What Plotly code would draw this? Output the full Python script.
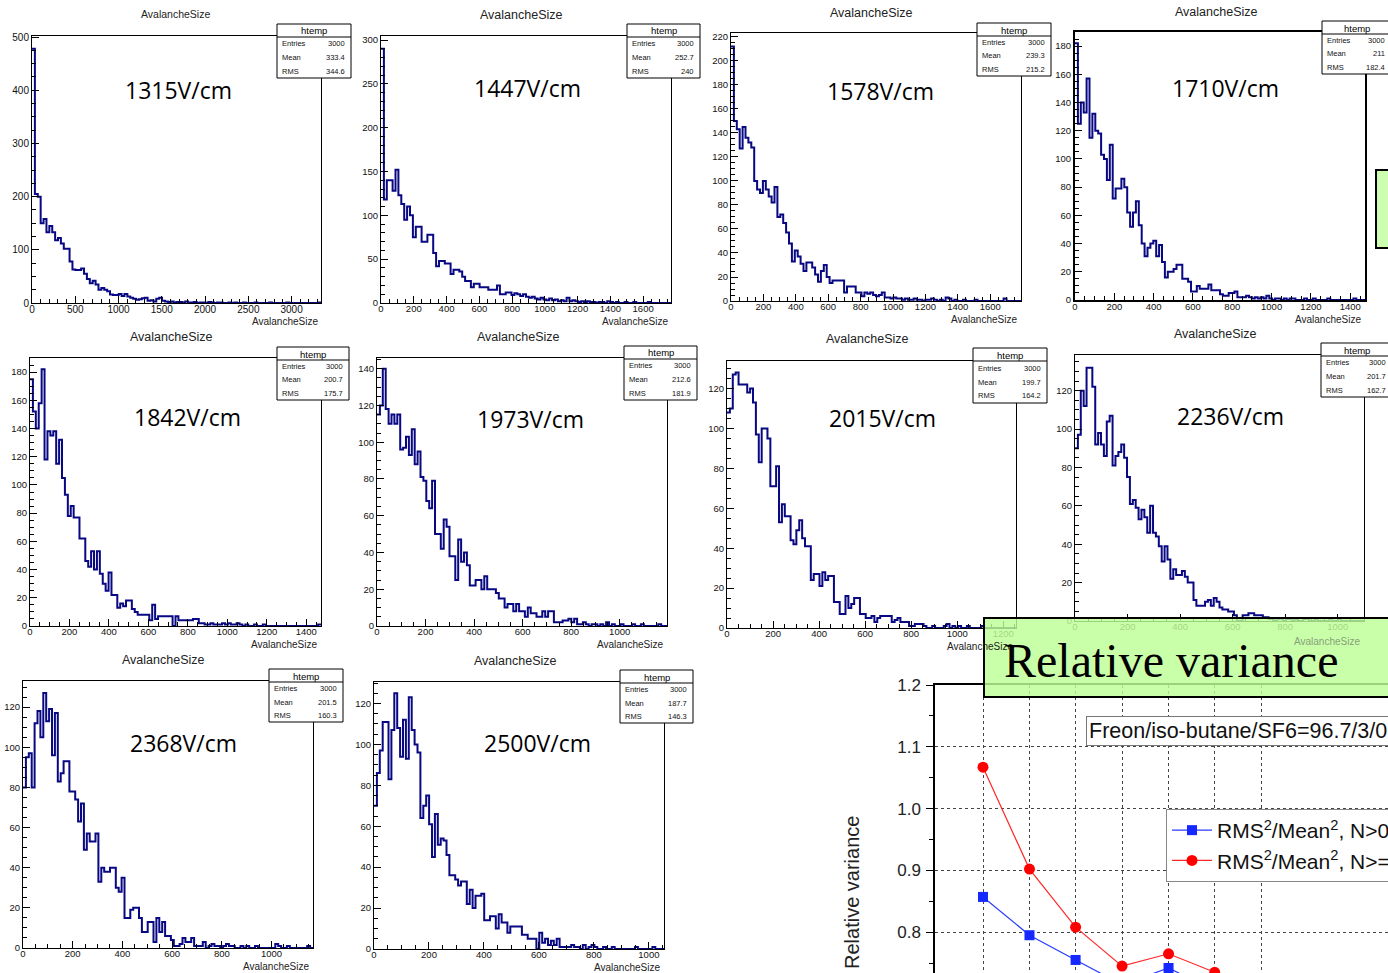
import plotly.graph_objects as go

W, H = 1388, 973
SANS = "Liberation Sans, Arial, sans-serif"
SERIF = "Liberation Serif, Times New Roman, serif"
LABELF = "Open Sans, Noto Sans, sans-serif"

# ---------------- data ----------------
field_labels = ["1315V/cm", "1447V/cm", "1578V/cm", "1710V/cm", "1842V/cm",
                "1973V/cm", "2015V/cm", "2236V/cm", "2368V/cm", "2500V/cm"]
bin_width = [33.4, 17.7, 17.9, 14.75, 14.75, 11.95, 12.55, 11.0, 11.67, 10.55]
entries = ["3000", "3000", "3000", "3000", "3000", "3000", "3000", "3000", "3000", "3000"]
means = ["333.4", "252.7", "239.3", "211", "200.7", "212.6", "199.7", "201.7", "201.5", "187.7"]
rmss = ["344.6", "240", "215.2", "182.4", "175.7", "181.9", "164.2", "162.7", "160.3", "146.3"]

counts_1315 = [478, 205, 200, 150, 158, 133, 145, 133, 118, 122,
               112, 102, 102, 78, 63, 62, 62, 65, 55, 45,
               37, 42, 35, 25, 28, 25, 22, 16, 15, 15,
               17, 13, 17, 12, 10, 8, 6, 7, 9, 10,
               4, 5, 3, 8, 10, 4, 3, 2, 3, 1,
               2, 2, 1, 3, 1, 1, 2, 0, 1, 1,
               0, 2, 1, 0, 1, 1, 0, 0, 1, 0,
               1, 0, 0, 1, 0, 0, 0, 1, 0, 0,
               0, 0, 1, 0, 0, 0, 0, 0, 1, 0,
               0, 0, 0, 0, 0, 0, 0, 0, 0, 1]
counts_1447 = [290, 118, 140, 140, 128, 152, 123, 113, 95, 110,
               100, 75, 87, 87, 70, 70, 78, 78, 57, 42,
               48, 48, 45, 45, 33, 38, 38, 36, 30, 25,
               25, 18, 22, 22, 18, 18, 18, 15, 15, 15,
               20, 10, 10, 12, 12, 9, 11, 10, 8, 10,
               7, 6, 7, 5, 4, 6, 4, 3, 5, 3,
               4, 2, 3, 2, 6, 2, 3, 2, 1, 2,
               1, 2, 1, 1, 0, 1, 1, 0, 2, 1,
               0, 1, 0, 0, 1, 0, 0, 1, 0, 0,
               0, 0, 1, 0, 0, 0, 0, 0, 0, 0]
counts_1578 = [212, 150, 143, 127, 145, 136, 132, 128, 100, 93,
               90, 100, 93, 87, 82, 95, 70, 72, 65, 57,
               48, 33, 42, 37, 31, 25, 32, 32, 28, 22,
               16, 25, 30, 20, 15, 17, 17, 17, 17, 7,
               12, 12, 12, 7, 7, 4, 7, 6, 7, 5,
               4, 5, 7, 3, 3, 2, 3, 2, 2, 1,
               2, 1, 1, 2, 1, 1, 0, 1, 1, 2,
               1, 0, 1, 0, 3, 2, 0, 1, 0, 0,
               1, 0, 0, 0, 1, 0, 0, 0, 0, 0,
               0, 0, 0, 0, 2, 0, 0, 0, 0, 0]
counts_1710 = [182, 125, 140, 133, 157, 115, 132, 120, 118, 103,
               100, 85, 110, 72, 79, 79, 86, 80, 62, 52,
               62, 70, 53, 40, 31, 37, 40, 42, 31, 39,
               27, 16, 20, 20, 22, 25, 25, 15, 15, 13,
               6, 6, 10, 8, 8, 8, 11, 7, 7, 7,
               4, 3, 3, 5, 5, 6, 2, 2, 2, 3,
               2, 1, 2, 1, 2, 1, 3, 1, 0, 1,
               1, 0, 1, 0, 1, 1, 0, 0, 0, 1,
               0, 0, 1, 0, 0, 0, 0, 1, 0, 0,
               0, 0, 0, 0, 0, 0, 1, 0, 0, 0]
counts_1842 = [175, 152, 140, 158, 182, 118, 138, 135, 138, 115,
               132, 105, 93, 78, 85, 77, 77, 62, 62, 46,
               42, 53, 40, 53, 37, 30, 25, 38, 22, 22,
               13, 16, 14, 18, 18, 12, 10, 8, 8, 8,
               8, 4, 15, 5, 7, 7, 7, 7, 7, 0,
               7, 4, 4, 4, 4, 4, 5, 5, 2, 2,
               1, 1, 2, 1, 1, 1, 2, 1, 2, 1,
               1, 2, 1, 0, 1, 0, 0, 1, 0, 0,
               1, 0, 0, 0, 0, 0, 0, 0, 0, 0,
               0, 0, 0, 0, 0, 0, 0, 0, 0, 1]
counts_1973 = [115, 120, 140, 118, 110, 115, 110, 115, 96, 97,
               103, 93, 107, 88, 95, 81, 79, 68, 64, 79,
               50, 50, 42, 58, 54, 38, 38, 25, 47, 35,
               40, 33, 22, 22, 25, 25, 20, 27, 20, 20,
               20, 18, 15, 15, 10, 12, 12, 8, 12, 8,
               8, 5, 10, 7, 7, 5, 5, 8, 5, 8,
               8, 2, 2, 2, 3, 3, 4, 2, 4, 1,
               1, 2, 1, 0, 1, 1, 0, 1, 0, 2,
               0, 1, 0, 0, 1, 0, 0, 0, 1, 0,
               0, 1, 0, 0, 0, 0, 0, 1, 0, 0]
counts_2015 = [108, 110, 127, 128, 122, 122, 122, 118, 120, 113,
               97, 83, 100, 100, 95, 71, 71, 81, 53, 62,
               56, 56, 44, 42, 49, 54, 45, 41, 41, 24,
               27, 27, 21, 28, 24, 26, 26, 13, 13, 7,
               7, 16, 10, 12, 15, 15, 7, 7, 5, 5,
               6, 3, 5, 6, 6, 6, 6, 3, 4, 5,
               3, 3, 3, 1, 1, 2, 2, 2, 1, 0,
               0, 1, 0, 0, 0, 1, 2, 0, 1, 0,
               1, 0, 0, 1, 0, 0, 0, 0, 1, 0,
               0, 0, 0, 0, 0, 0, 0, 0, 0, 0]
counts_2236 = [90, 97, 120, 112, 132, 132, 122, 92, 98, 92,
               86, 104, 107, 81, 86, 88, 92, 85, 75, 61,
               63, 59, 53, 58, 54, 46, 60, 46, 44, 39,
               31, 39, 32, 22, 27, 24, 24, 26, 23, 20,
               20, 11, 8, 8, 8, 10, 11, 8, 12, 10,
               7, 6, 6, 5, 5, 3, 0, 0, 3, 3,
               4, 4, 3, 3, 3, 2, 2, 1, 1, 0,
               1, 1, 0, 1, 1, 0, 1, 0, 0, 1,
               1, 0, 0, 1, 0, 0, 0, 0, 1, 0,
               0, 1, 0, 0, 0, 0, 0, 0, 0, 0]
counts_2368 = [80, 95, 97, 80, 112, 118, 105, 127, 113, 119,
               96, 117, 83, 87, 93, 93, 78, 78, 74, 63,
               72, 49, 57, 53, 53, 57, 33, 40, 38, 38,
               40, 40, 30, 28, 35, 15, 15, 19, 20, 20,
               15, 8, 8, 13, 13, 3, 15, 8, 13, 6,
               6, 4, 1, 1, 2, 5, 3, 3, 5, 1,
               1, 1, 3, 0, 1, 2, 1, 1, 0, 1,
               2, 1, 1, 0, 0, 1, 0, 1, 0, 0,
               1, 0, 0, 0, 0, 0, 0, 2, 1, 0,
               0, 1, 0, 0, 0, 0, 0, 0, 1, 0]
counts_2500 = [70, 86, 97, 111, 111, 83, 107, 125, 108, 94,
               112, 93, 123, 107, 100, 96, 64, 70, 75, 61,
               45, 66, 51, 54, 53, 46, 36, 36, 34, 31,
               33, 33, 22, 29, 20, 26, 26, 27, 14, 14,
               16, 16, 10, 17, 13, 13, 8, 11, 11, 11,
               11, 7, 7, 5, 5, 5, 0, 8, 3, 5,
               2, 4, 2, 5, 1, 1, 1, 1, 2, 1,
               1, 0, 2, 0, 1, 2, 1, 0, 0, 1,
               0, 0, 1, 0, 0, 0, 0, 0, 0, 0,
               1, 0, 0, 0, 0, 0, 1, 0, 0, 0]

all_counts = [counts_1315, counts_1447, counts_1578, counts_1710, counts_1842,
              counts_1973, counts_2015, counts_2236, counts_2368, counts_2500]

# relative variance panel
field_strength = [1315, 1447, 1578, 1710, 1842, 1973, 2105]
relvar_n0 = [0.857, 0.795, 0.755, 0.715, 0.742, 0.705, 0.69]
relvar_n1 = [1.067, 0.902, 0.808, 0.745, 0.765, 0.735, 0.71]
relvar_ticks = [0.8, 0.9, 1.0, 1.1, 1.2]
legend_names = ["RMS<sup>2</sup>/Mean<sup>2</sup>, N>0", "RMS<sup>2</sup>/Mean<sup>2</sup>, N>=1"]

# ---------------- layout geometry (pixels) ----------------
def fx(x):
    return x / W


def fy(y):
    return 1 - y / H


panels = [
    dict(f=(32, 321, 36, 303), ymax=502, dx=500, dy=100, dxm=100, dym=25, t=(175, 14, 10.5), lab=(178, 90), xt=(320, 321), sb=(277, 351, 24, 78), fw=1, ts=10),
    dict(f=(381, 671, 36, 303), ymax=304.6, dx=200, dy=50, dxm=50, dym=10, t=(521, 15, 12.5), lab=(527, 88), xt=(670, 321), sb=(627, 700, 24, 78), fw=1, ts=9.5),
    dict(f=(731, 1021, 33, 301), ymax=223.3, dx=200, dy=20, dxm=50, dym=5, t=(871, 13, 12.5), lab=(880, 91), xt=(1019, 319), sb=(977, 1051, 23, 76), fw=1, ts=9.5),
    dict(f=(1075, 1365, 32, 300), ymax=190, dx=200, dy=20, dxm=50, dym=5, t=(1216, 12, 12.5), lab=(1225, 88), xt=(1363, 319), sb=(1322, 1391, 21, 74), fw=2, ts=9.5),
    dict(f=(30, 321, 358, 626), ymax=190, dx=200, dy=20, dxm=50, dym=5, t=(171, 337, 12.5), lab=(188, 417), xt=(319, 644), sb=(277, 349, 347, 400), fw=1, ts=9.5),
    dict(f=(377, 667, 358, 626), ymax=145.8, dx=200, dy=20, dxm=50, dym=5, t=(518, 337, 12.5), lab=(530, 419), xt=(665, 644), sb=(624, 697, 346, 400), fw=1, ts=9.5),
    dict(f=(727, 1016, 361, 628), ymax=133.8, dx=200, dy=20, dxm=50, dym=5, t=(867, 339, 12.5), lab=(882, 418), xt=(1015, 646), sb=(973, 1047, 348, 403), fw=1, ts=9.5),
    dict(f=(1075, 1364, 355, 621), ymax=138.6, dx=200, dy=20, dxm=50, dym=5, t=(1215, 334, 12.5), lab=(1230, 416), xt=(1362, 641), sb=(1321, 1392, 343, 397), fw=1, ts=9.5),
    dict(f=(23, 313, 681, 948), ymax=133, dx=200, dy=20, dxm=50, dym=5, t=(163, 660, 12.5), lab=(183, 743), xt=(311, 966), sb=(269, 343, 669, 722), fw=1, ts=9.5),
    dict(f=(374, 664, 682, 949), ymax=130.5, dx=200, dy=20, dxm=50, dym=5, t=(515, 661, 12.5), lab=(537, 743), xt=(662, 967), sb=(620, 693, 670, 723), fw=1, ts=9.5),
]

NAVY = "rgb(8,8,130)"
fig = go.Figure()
annotations = []
shapes = []
layout_axes = {}


def ann(x, y, text, size, family=SANS, xanchor="center", yanchor="middle", color="black", **kw):
    d = dict(x=fx(x), y=fy(y), xref="paper", yref="paper", text=text, showarrow=False,
             font=dict(family=family, size=size, color=color), xanchor=xanchor, yanchor=yanchor)
    d.update(kw)
    return d


for i, (p, counts, bw) in enumerate(zip(panels, all_counts, bin_width)):
    n = i + 1
    xn = "x" if n == 1 else f"x{n}"
    yn = "y" if n == 1 else f"y{n}"
    edges = [k * bw for k in range(len(counts) + 1)]
    fig.add_trace(go.Scatter(x=edges, y=counts + [counts[-1]], mode="lines", line_shape="hv",
                             line=dict(color=NAVY, width=2), xaxis=xn, yaxis=yn, showlegend=False,
                             hoverinfo="skip"))
    l, r, t, b = p["f"]
    common = dict(showline=True, mirror=True, linecolor="black", linewidth=p["fw"], showgrid=False,
                  zeroline=False, ticks="inside", ticklen=7, tickcolor="black", tickwidth=1,
                  tickfont=dict(family=SANS, size=p["ts"], color="#111"), tick0=0)
    layout_axes["xaxis" if n == 1 else f"xaxis{n}"] = dict(
        domain=[fx(l), fx(r)], anchor=yn, range=[0, len(counts) * bw], dtick=p["dx"],
        ticklabelstandoff=-3,
        minor=dict(dtick=p["dxm"], ticks="inside", ticklen=4, tickcolor="black", tick0=0), **common)
    layout_axes["yaxis" if n == 1 else f"yaxis{n}"] = dict(
        domain=[fy(b), fy(t)], anchor=xn, range=[0, p["ymax"]], dtick=p["dy"],
        minor=dict(dtick=p["dym"], ticks="inside", ticklen=4, tickcolor="black", tick0=0), **common)
    # titles
    tx, ty, ts = p["t"]
    annotations.append(ann(tx, ty, "AvalancheSize", ts, color="#222"))
    xr, xy = p["xt"]
    annotations.append(ann(xr, xy, "AvalancheSize", 10, xanchor="right",
                           color="#86a07c" if n == 8 else "#222"))
    lx, ly = p["lab"]
    annotations.append(ann(lx, ly, field_labels[i], 23, family=LABELF, color="black"))
    # stats box
    x0, x1, y0, y1 = p["sb"]
    shapes.append(dict(type="rect", xref="paper", yref="paper", x0=fx(x0), x1=fx(x1), y0=fy(y1), y1=fy(y0),
                       fillcolor="white", line=dict(color="black", width=1), layer="above"))
    hh = 13
    shapes.append(dict(type="line", xref="paper", yref="paper", x0=fx(x0), x1=fx(x1), y0=fy(y0 + hh), y1=fy(y0 + hh),
                       line=dict(color="black", width=1), layer="above"))
    annotations.append(ann((x0 + x1) / 2, y0 + hh / 2 + 0.5, "htemp", 9.5))
    rowh = (y1 - y0 - hh) / 3
    for j, (name, val) in enumerate([("Entries", entries[i]), ("Mean", means[i]), ("RMS", rmss[i])]):
        yy = y0 + hh + (j + 0.5) * rowh
        annotations.append(ann(x0 + 3, yy, name, 7.5, xanchor="left", color="#111"))
        annotations.append(ann(x1 - 4, yy, val, 7.5, xanchor="right", color="#111"))

# ---------------- relative variance panel ----------------
px0 = 983.0
step_px = 46.3
step_v = 131.5
xmin_v = field_strength[0] - (px0 - 935) * step_v / step_px
xmax_v = field_strength[0] + (W - px0) * step_v / step_px
ybot_v = 0.8 - (H - 932) / 620.0

fig.add_trace(go.Scatter(x=field_strength, y=relvar_n0, mode="lines+markers", name=legend_names[0],
                         line=dict(color="rgb(40,60,255)", width=1.2),
                         marker=dict(symbol="square", size=10, color="rgb(20,40,255)"),
                         xaxis="x11", yaxis="y11"))
fig.add_trace(go.Scatter(x=field_strength, y=relvar_n1, mode="lines+markers", name=legend_names[1],
                         line=dict(color="rgb(255,40,40)", width=1.2),
                         marker=dict(symbol="circle", size=11, color="rgb(255,0,0)"),
                         xaxis="x11", yaxis="y11"))

layout_axes["xaxis11"] = dict(domain=[fx(935), 1.0], anchor="y11", range=[xmin_v, xmax_v], side="top",
                              showline=True, linecolor="black", linewidth=1.5, ticks="",
                              showticklabels=False, tickmode="array", tickvals=field_strength,
                              showgrid=True, gridcolor="#444", griddash="dot", gridwidth=1.2, zeroline=False)
layout_axes["yaxis11"] = dict(domain=[0, fy(685)], anchor="x11", range=[ybot_v, 1.2], showline=True,
                              linecolor="black", linewidth=1.5, ticks="outside", ticklen=7, tickwidth=1.3,
                              tickcolor="black", tickmode="array", tickvals=relvar_ticks,
                              ticktext=[f"{v:.1f}" for v in relvar_ticks],
                              tickfont=dict(family=SANS, size=17, color="#222"),
                              ticklabelstandoff=2,
                              minor=dict(dtick=0.05, tick0=0.8, ticks="outside", ticklen=4, tickcolor="black"),
                              showgrid=True, gridcolor="#444", griddash="dot", gridwidth=1.2, zeroline=False)

annotations.append(ann(852, 893, "Relative variance", 20, textangle=-90, color="#222"))
annotations.append(ann(1086, 731, "Freon/iso-butane/SF6=96.7/3/0.3", 21.5, xanchor="left", color="#111",
                       bordercolor="#777", borderwidth=1, borderpad=2, bgcolor="white"))

# green boxes
shapes.append(dict(type="rect", xref="paper", yref="paper", x0=fx(1376), x1=fx(1400), y0=fy(248), y1=fy(170),
                   fillcolor="rgb(204,255,176)", line=dict(color="black", width=2), layer="above"))
shapes.append(dict(type="rect", xref="paper", yref="paper", x0=fx(984), x1=fx(1400), y0=fy(697), y1=fy(618),
                   fillcolor="rgba(190,255,150,0.82)", line=dict(color="black", width=2), layer="above"))
annotations.append(ann(1002, 660, "Relative variance", 48, family=SERIF, xanchor="left", color="black"))

fig.update_layout(
    width=W, height=H, margin=dict(l=0, r=0, t=0, b=0, autoexpand=False),
    paper_bgcolor="white", plot_bgcolor="white",
    annotations=annotations, shapes=shapes,
    legend=dict(x=fx(1166), y=fy(809), xanchor="left", yanchor="top", bgcolor="white",
                bordercolor="#888", borderwidth=1, font=dict(family=SANS, size=21, color="#111"),
                itemwidth=40, tracegroupgap=0),
    **layout_axes,
)

fig.write_html("out.html")
